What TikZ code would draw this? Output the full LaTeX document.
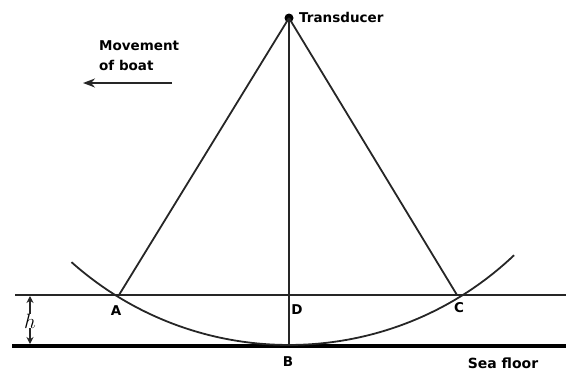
\documentclass[tikz,border=0pt]{standalone}
\usepackage{fontspec}
\setmainfont{DejaVu Sans}
\usetikzlibrary{arrows.meta}
\begin{document}
\begin{tikzpicture}[x=1pt,y=-1pt,
  line/.style={line width=1.8pt,black!85},
  lbl/.style={font=\fontsize{13.5}{16}\selectfont\bfseries,inner sep=0pt}]
\useasboundingbox (0,0) rectangle (566,375);
\coordinate (T) at (289,18);
\coordinate (A) at (119,295);
\coordinate (C) at (457,295);
\coordinate (D) at (289,295);
\coordinate (B) at (289,345);
\coordinate (HL) at (15,295);
\coordinate (HR) at (566,295);
\coordinate (FL) at (12,346);
\coordinate (FR) at (566,346);
\fill (T) circle (4.5);
\node[lbl,anchor=west] (tl) at (299,17) {Transducer};
\draw[line] (HL) -- (HR);
\draw[line width=4.5pt] (FL) -- (FR);
\draw[line] (T) -- (A);
\draw[line] (T) -- (C);
\draw[line] (T) -- (B);
\draw[line] (T) ++(131.7:327) arc[start angle=131.7,end angle=46.5,radius=327];
\node[lbl] (la) at (116,311) {A};
\node[lbl] (ld) at (297,310) {D};
\node[lbl] (lc) at (459,308) {C};
\node[lbl] (lb) at (288,362) {B};
\node[lbl,font=\fontsize{14}{16}\selectfont\bfseries] (ls) at (503,363) {Sea floor};
\node[inner sep=0pt,font=\fontsize{22}{22}\selectfont] (h) at (30,321) {$h$};
\coordinate (ht) at (30,296);
\coordinate (hb) at (30,344);
\draw[line,-{Stealth[length=7pt,width=7pt]}] (h.north) -- (ht);
\draw[line,-{Stealth[length=7pt,width=7pt]}] (h.south) -- (hb);
\node[lbl,anchor=north west,align=left] (mv) at (99,40) {Movement\\[4pt]of boat};
\coordinate (m1) at (172,83);
\coordinate (m2) at (83,83);
\draw[line,-{Stealth[length=12pt,width=9pt]}] (m1) -- (m2);
\end{tikzpicture}
\end{document}
